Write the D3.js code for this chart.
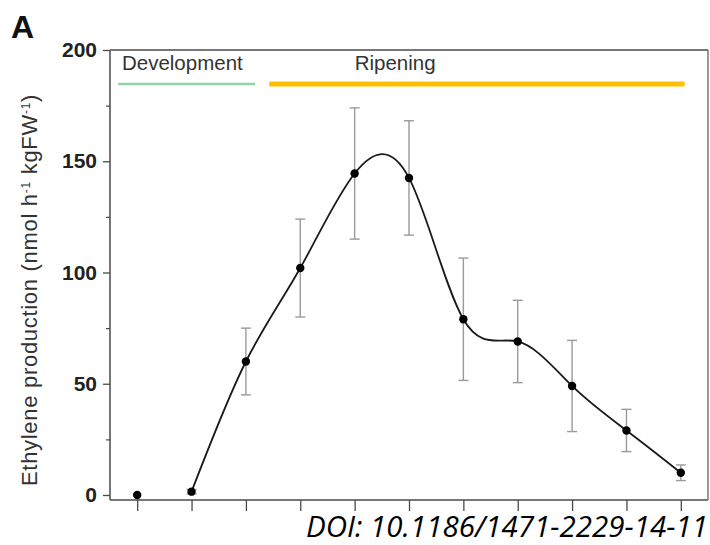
<!DOCTYPE html>
<html>
<head>
<meta charset="utf-8">
<script src="https://cdn.jsdelivr.net/npm/d3@7"></script>
<style>
  html, body { margin: 0; padding: 0; background: #fff; }
  svg { display: block; }
</style>
</head>
<body>
<svg id="chart" width="710" height="545"></svg>
<script>
// ---- data ----
const stages = [1, 2, 3, 4, 5, 6, 7, 8, 9, 10, 11];
const ethylene = [0, 1.5, 60, 102, 144.5, 142.5, 79, 69, 49, 29, 10];
const ethyleneSD = [0, 1, 15, 22, 29.5, 25.7, 27.5, 18.5, 20.5, 9.5, 3.5];
const yMajorTicks = [0, 50, 100, 150, 200];
const yMinorTicks = [25, 75, 125, 175];
const phases = ["Development", "Ripening"];
const phaseStart = [-0.35, 2.43];   // in stage-index units
const phaseEnd = [2.17, 10.07];
const phaseLabelAt = [-0.28, 4.0];
const phaseColors = ["#8fd4a4", "#ffbf00"];

// ---- layout ----
const svg = d3.select("#chart");
svg.append("rect").attr("width", 710).attr("height", 545).attr("fill", "#fff");

const x = d3.scaleLinear().domain([-0.5, stages.length - 0.5]).range([110, 708]);
const y = d3.scaleLinear().domain([0, 200]).range([495, 50]);
const xAxisY = y(0) + 5;
const axisColor = "#4a4a4a";
const font = "Liberation Sans, Arial, sans-serif";

// frame / axes lines
const g = svg.append("g");
g.append("line").attr("x1", x.range()[0]).attr("x2", x.range()[0])
  .attr("y1", y(200)).attr("y2", xAxisY).attr("stroke", axisColor).attr("stroke-width", 1.5);
g.append("line").attr("x1", x.range()[0]).attr("x2", x.range()[1])
  .attr("y1", xAxisY).attr("y2", xAxisY).attr("stroke", axisColor).attr("stroke-width", 1.5);
g.append("line").attr("x1", x.range()[0]).attr("x2", x.range()[1])
  .attr("y1", y(200)).attr("y2", y(200)).attr("stroke", "#777").attr("stroke-width", 2);
g.append("line").attr("x1", x.range()[1]).attr("x2", x.range()[1])
  .attr("y1", y(200)).attr("y2", xAxisY).attr("stroke", "#777").attr("stroke-width", 1.5);

// y axis
const yAxis = svg.append("g").attr("transform", `translate(${x.range()[0]},0)`)
  .call(d3.axisLeft(y).tickValues(yMajorTicks).tickSize(7).tickPadding(6));
yAxis.select(".domain").remove();
yAxis.selectAll(".tick line").attr("stroke", axisColor).attr("stroke-width", 1.3);
yAxis.selectAll(".tick text").attr("font-family", font)
  .attr("font-size", 21).attr("font-weight", "bold").attr("fill", "#222");

const yMinor = svg.append("g").attr("transform", `translate(${x.range()[0]},0)`)
  .call(d3.axisLeft(y).tickValues(yMinorTicks).tickSize(4).tickFormat(""));
yMinor.select(".domain").remove();
yMinor.selectAll(".tick line").attr("stroke", axisColor).attr("stroke-width", 1.2);

// x axis (unlabelled ticks)
const xAxis = svg.append("g").attr("transform", `translate(0,${xAxisY})`)
  .call(d3.axisBottom(x).tickValues(d3.range(stages.length)).tickSize(11).tickFormat(""));
xAxis.select(".domain").remove();
xAxis.selectAll(".tick line").attr("stroke", axisColor).attr("stroke-width", 1.3);

// y label
svg.append("text")
  .attr("transform", `translate(37,290) rotate(-90)`)
  .attr("text-anchor", "middle")
  .attr("font-family", font)
  .attr("font-size", 22).attr("letter-spacing", 0.7).attr("fill", "#333")
  .text("Ethylene production (nmol h")
  .call(t => {
    t.append("tspan").attr("baseline-shift", "super").attr("font-size", 12).text("-1");
    t.append("tspan").text(" kgFW");
    t.append("tspan").attr("baseline-shift", "super").attr("font-size", 12).text("-1");
    t.append("tspan").text(")");
  });

// panel letter
svg.append("text").attr("x", 11).attr("y", 38)
  .attr("font-family", font)
  .attr("font-size", 32).attr("font-weight", "bold").attr("fill", "#111")
  .text("A");

// phase bars
const phaseY = y(200) + 34;
phases.forEach((p, i) => {
  svg.append("line")
    .attr("x1", x(phaseStart[i])).attr("x2", x(phaseEnd[i]))
    .attr("y1", phaseY).attr("y2", phaseY)
    .attr("stroke", phaseColors[i]).attr("stroke-width", i === 0 ? 2.5 : 5);
  svg.append("text").attr("x", x(phaseLabelAt[i])).attr("y", phaseY - 14)
    .attr("font-family", font)
    .attr("font-size", 20.5).attr("fill", "#333").text(p);
});

// error bars
const eb = svg.append("g");
stages.forEach((s, i) => {
  if (ethyleneSD[i] <= 0) return;
  const cx = x(i), lo = y(ethylene[i] - ethyleneSD[i]), hi = y(ethylene[i] + ethyleneSD[i]);
  eb.append("line").attr("x1", cx).attr("x2", cx).attr("y1", lo).attr("y2", hi)
    .attr("stroke", "#9a9a9a").attr("stroke-width", 1.4);
  [lo, hi].forEach(v => eb.append("line").attr("x1", cx - 5).attr("x2", cx + 5)
    .attr("y1", v).attr("y2", v).attr("stroke", "#9a9a9a").attr("stroke-width", 1.4));
});

// smooth curve (starting from 2nd stage)
const line = d3.line().x(d => x(d[0])).y(d => y(d[1])).curve(d3.curveNatural);
const pts = ethylene.map((v, i) => [i, v]).slice(1);
svg.append("path").attr("d", line(pts)).attr("fill", "none")
  .attr("stroke", "#1a1a1a").attr("stroke-width", 1.8);

// points
svg.append("g").selectAll("circle").data(ethylene).join("circle")
  .attr("cx", (d, i) => x(i)).attr("cy", d => y(d)).attr("r", 4.2).attr("fill", "#000");

// DOI
svg.append("text").attr("x", 708).attr("y", 537).attr("text-anchor", "end")
  .attr("font-family", "Open Sans, sans-serif").attr("font-style", "italic")
  .attr("font-size", 29.5).attr("fill", "#000")
  .text("DOI: 10.1186/1471-2229-14-11");
</script>
</body>
</html>
